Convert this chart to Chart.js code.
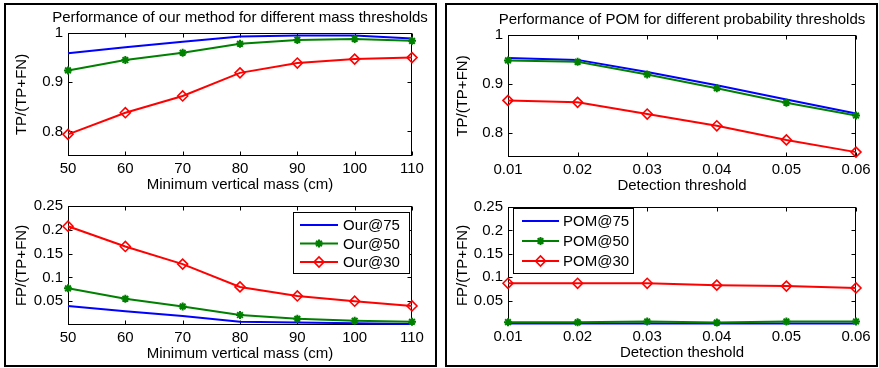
<!DOCTYPE html>
<html>
<head>
<meta charset="utf-8">
<script src="https://cdn.jsdelivr.net/npm/chart.js@4.4.0/dist/chart.umd.min.js"></script>
<style>
  html, body { margin: 0; padding: 0; background: #fff; overflow: hidden; }
  body { width: 879px; height: 368px; position: relative; }
  .panel { position: absolute; top: 3px; width: 433px; height: 364px; border: 2px solid #000; box-sizing: border-box; }
  canvas { position: absolute; }
</style>
</head>
<body>
<div class="panel" style="left:4px"></div>
<div class="panel" style="left:445px"></div>
<canvas id="ourTP"></canvas>
<canvas id="ourFP"></canvas>
<canvas id="pomTP"></canvas>
<canvas id="pomFP"></canvas>
<script>
// x values
const massThresholds = [50, 60, 70, 80, 90, 100, 110];
const probThresholds = [0.01, 0.02, 0.03, 0.04, 0.05, 0.06];

// our method, TP/(TP+FN)
const ourTP75 = [0.959, 0.971, 0.982, 0.993, 0.995, 0.995, 0.989];
const ourTP50 = [0.924, 0.945, 0.960, 0.978, 0.986, 0.988, 0.984];
const ourTP30 = [0.794, 0.838, 0.872, 0.919, 0.939, 0.947, 0.950];
// our method, FP/(TP+FN)
const ourFP75 = [0.040, 0.029, 0.019, 0.007, 0.005, 0.0035, 0.002];
const ourFP50 = [0.077, 0.055, 0.039, 0.021, 0.013, 0.009, 0.007];
const ourFP30 = [0.2075, 0.165, 0.128, 0.080, 0.061, 0.050, 0.040];

// POM, TP/(TP+FN)
const pomTP75 = [0.953, 0.949, 0.924, 0.897, 0.868, 0.839];
const pomTP50 = [0.948, 0.945, 0.919, 0.891, 0.861, 0.835];
const pomTP30 = [0.866, 0.862, 0.838, 0.814, 0.785, 0.760];
// POM, FP/(TP+FN)
const pomFP75 = [0.001, 0.001, 0.001, 0.001, 0.001, 0.001];
const pomFP50 = [0.004, 0.0035, 0.0055, 0.003, 0.0055, 0.0055];
const pomFP30 = [0.087, 0.087, 0.087, 0.083, 0.081, 0.077];

// tick labels
const tpTicks = [0.8, 0.9, 1];
const fpTicks = [0.05, 0.1, 0.15, 0.2, 0.25];

const FONT = "'Liberation Sans', Arial, Helvetica, sans-serif";
Chart.defaults.font.family = FONT;
Chart.defaults.font.size = 15;
Chart.defaults.color = "#000";

// MATLAB style box with inward ticks on all four sides
const boxTicks = {
    id: "boxTicks",
    beforeDatasetsDraw(chart) {
        const { ctx, chartArea: a, scales } = chart;
        const L = Math.round(a.left) + 0.5, R = Math.round(a.right) - 0.5;
        const T = Math.round(a.top) + 0.5, B = Math.round(a.bottom) - 0.5;
        ctx.save();
        ctx.strokeStyle = "#000";
        ctx.lineWidth = 1;
        ctx.beginPath();
        scales.x.ticks.forEach(t => {
            const px = Math.round(scales.x.getPixelForValue(t.value)) + 0.5;
            ctx.moveTo(px, B); ctx.lineTo(px, B - 4);
            ctx.moveTo(px, T); ctx.lineTo(px, T + 4);
        });
        scales.y.ticks.forEach(t => {
            const py = Math.round(scales.y.getPixelForValue(t.value)) + 0.5;
            ctx.moveTo(L, py); ctx.lineTo(L + 4, py);
            ctx.moveTo(R, py); ctx.lineTo(R - 4, py);
        });
        ctx.stroke();
        ctx.strokeRect(L, T, R - L, B - T);
        ctx.restore();
    }
};

// boxed legend inside the axes
const boxLegend = {
    id: "boxLegend",
    afterDraw(chart, args, opts) {
        if (!opts || !opts.show) return;
        const { ctx, chartArea: a } = chart;
        const x0 = Math.round(opts.side === "right" ? a.right - opts.inset - opts.width : a.left + opts.inset);
        const y0 = Math.round(a.top + opts.top);
        ctx.save();
        ctx.fillStyle = "#fff";
        ctx.fillRect(x0, y0, opts.width, opts.height);
        ctx.strokeStyle = "#000";
        ctx.lineWidth = 1;
        ctx.strokeRect(x0 + 0.5, y0 + 0.5, opts.width, opts.height);
        ctx.font = "15px " + FONT;
        ctx.textBaseline = "middle";
        chart.data.datasets.forEach((ds, i) => {
            const y = y0 + opts.firstRow + i * opts.rowGap;
            const xa = x0 + opts.lineStart, xb = xa + opts.lineLen;
            ctx.strokeStyle = ds.borderColor;
            ctx.lineWidth = ds.borderWidth;
            ctx.beginPath();
            ctx.moveTo(xa, y); ctx.lineTo(xb, y);
            ctx.stroke();
            if (ds.pointRadius > 0) {
                ctx.fillStyle = ds.pointBackgroundColor;
                ctx.lineWidth = ds.pointBorderWidth;
                Chart.helpers.drawPoint(ctx, {
                    pointStyle: ds.pointStyle, radius: ds.pointRadius,
                    borderWidth: ds.pointBorderWidth, rotation: 0
                }, (xa + xb) / 2, y);
            }
            ctx.fillStyle = "#000";
            ctx.fillText(ds.label, x0 + opts.textStart, y + 1);
        });
        ctx.restore();
    }
};

function series(xs, ys) {
    return xs.map((x, i) => ({ x: x, y: ys[i] }));
}

function makeDatasets(prefix, xs, s75, s50, s30) {
    return [
        { label: prefix + "@75", data: series(xs, s75), borderColor: "#0000ff", borderWidth: 2,
          pointRadius: 0, order: 2 },
        { label: prefix + "@50", data: series(xs, s50), borderColor: "#008000", borderWidth: 2,
          pointStyle: "star", pointRadius: 4, pointBorderWidth: 2, pointBackgroundColor: "#008000",
          pointBorderColor: "#008000", order: 1 },
        { label: prefix + "@30", data: series(xs, s30), borderColor: "#ff0000", borderWidth: 2,
          pointStyle: "rectRot", pointRadius: 5, pointBorderWidth: 1.6,
          pointBackgroundColor: "rgba(0,0,0,0)", pointBorderColor: "#ff0000", order: 0 }
    ];
}

function makeChart(id, box, cfg) {
    const topM = cfg.title ? 30 : 12;
    const canvas = document.getElementById(id);
    canvas.width = box.r - box.l + 124;
    canvas.height = box.b - box.t + topM + 40;
    canvas.style.left = (box.l - 62) + "px";
    canvas.style.top = (box.t - topM) + "px";
    cfg.datasets.forEach(ds => { ds.tension = 0; ds.fill = false; ds.clip = false; });
    return new Chart(canvas, {
        type: "line",
        data: { datasets: cfg.datasets },
        options: {
            responsive: false,
            animation: false,
            devicePixelRatio: 1,
            layout: { padding: { left: 0, right: 0, top: cfg.title ? 0 : topM, bottom: 0 } },
            plugins: {
                legend: { display: false },
                tooltip: { enabled: false },
                title: {
                    display: !!cfg.title, text: cfg.title || "", color: "#000",
                    font: { size: 15, weight: "normal", lineHeight: 1.2 },
                    padding: { top: 6, bottom: 6 }
                },
                boxLegend: cfg.legend
            },
            scales: {
                x: {
                    type: "linear", min: cfg.xTicks[0], max: cfg.xTicks[cfg.xTicks.length - 1],
                    afterBuildTicks: s => { s.ticks = cfg.xTicks.map(v => ({ value: v })); },
                    afterFit: s => { s.height = 40; },
                    grid: { display: false, drawTicks: false },
                    border: { display: false },
                    ticks: { padding: 4, maxRotation: 0, autoSkip: false, callback: v => String(v) },
                    title: { display: true, text: cfg.xTitle, padding: { top: 0, bottom: 2 } }
                },
                y: {
                    type: "linear", min: cfg.yMin, max: cfg.yMax,
                    afterBuildTicks: s => { s.ticks = cfg.yTicks.map(v => ({ value: v })); },
                    afterFit: s => { s.width = 62; },
                    grid: { display: false, drawTicks: false },
                    border: { display: false },
                    ticks: { padding: 5, autoSkip: false, callback: v => String(v) },
                    title: { display: true, text: cfg.yTitle, padding: { top: cfg.yPad, bottom: 0 } }
                },
                // empty right-hand axis so the axes box sits in the middle of the canvas
                yRight: {
                    type: "linear", position: "right", min: cfg.yMin, max: cfg.yMax,
                    afterFit: s => { s.width = 62; },
                    grid: { display: false, drawTicks: false },
                    border: { display: false },
                    ticks: { display: false }
                }
            }
        },
        plugins: [boxTicks, boxLegend]
    });
}

makeChart("ourTP", { l: 68, r: 412, t: 33, b: 156 }, {
    title: "Performance of our method for different mass thresholds",
    datasets: makeDatasets("Our", massThresholds, ourTP75, ourTP50, ourTP30),
    xTicks: massThresholds, yTicks: tpTicks, yMin: 0.75, yMax: 1,
    xTitle: "Minimum vertical mass (cm)", yTitle: "TP/(TP+FN)", yPad: 7,
    legend: { show: false }
});

makeChart("ourFP", { l: 68, r: 412, t: 204, b: 325 }, {
    datasets: makeDatasets("Our", massThresholds, ourFP75, ourFP50, ourFP30),
    xTicks: massThresholds, yTicks: fpTicks, yMin: 0, yMax: 0.25,
    xTitle: "Minimum vertical mass (cm)", yTitle: "FP/(TP+FN)", yPad: 7,
    legend: { show: true, side: "right", inset: 3, top: 6, width: 116, height: 61,
              firstRow: 13, rowGap: 18.5, lineStart: 7, lineLen: 38, textStart: 50 }
});

makeChart("pomTP", { l: 508, r: 856, t: 35, b: 157 }, {
    title: "Performance of POM for different probability thresholds",
    datasets: makeDatasets("POM", probThresholds, pomTP75, pomTP50, pomTP30),
    xTicks: probThresholds, yTicks: tpTicks, yMin: 0.75, yMax: 1,
    xTitle: "Detection threshold", yTitle: "TP/(TP+FN)", yPad: 8,
    legend: { show: false }
});

makeChart("pomFP", { l: 508, r: 856, t: 205, b: 324 }, {
    datasets: makeDatasets("POM", probThresholds, pomFP75, pomFP50, pomFP30),
    xTicks: probThresholds, yTicks: fpTicks, yMin: 0, yMax: 0.25,
    xTitle: "Detection theshold", yTitle: "FP/(TP+FN)", yPad: 8,
    legend: { show: true, side: "left", inset: 5, top: 1, width: 120, height: 65,
              firstRow: 13, rowGap: 20, lineStart: 9, lineLen: 37, textStart: 50 }
});
</script>
</body>
</html>
